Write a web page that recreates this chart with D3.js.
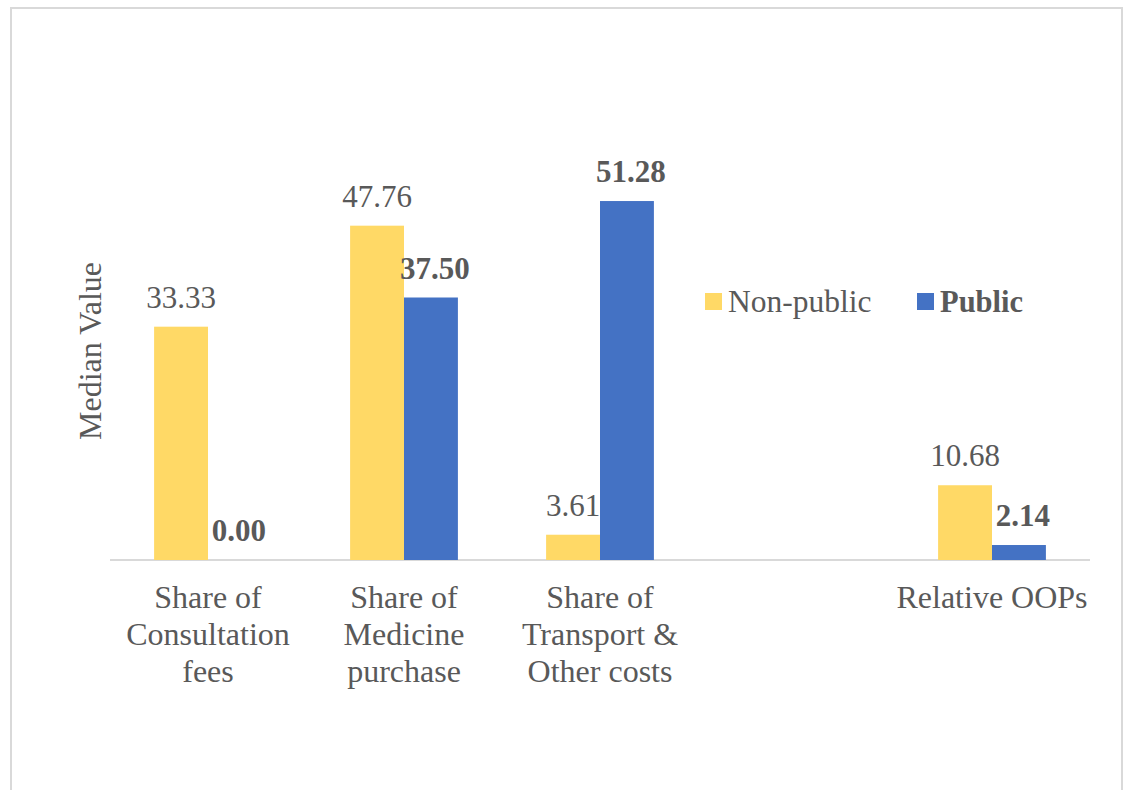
<!DOCTYPE html>
<html>
<head>
<meta charset="utf-8">
<script src="https://cdn.jsdelivr.net/npm/d3@7"></script>
<style>
  body { margin: 0; background: #fff; }
  text { font-family: "Liberation Serif", "DejaVu Serif", "Times New Roman", serif; fill: #595959; }
</style>
</head>
<body>
<div id="chart"></div>
<script>
// categories (empty slot kept as in the original layout)
const categories = [
  ['Share of', 'Consultation', 'fees'],
  ['Share of', 'Medicine', 'purchase'],
  ['Share of', 'Transport &', 'Other costs'],
  [],
  ['Relative OOPs']
];
const nonPublic = [33.33, 47.76, 3.61, null, 10.68];
const publicVals = [0.00, 37.50, 51.28, null, 2.14];
const seriesNames = ['Non-public', 'Public'];
const colors = ['#FFD966', '#4472C4'];

const W = 1126, H = 790;
const margin = { top: 140, right: 36, bottom: 230, left: 110 };
const width = W - margin.left - margin.right;
const height = H - margin.top - margin.bottom;

const svg = d3.select('#chart').append('svg')
  .attr('width', W)
  .attr('height', H);

// outer frame
svg.append('rect')
  .attr('x', 11).attr('y', 8)
  .attr('width', 1111).attr('height', 820)
  .attr('fill', 'none')
  .attr('stroke', '#d9d9d9')
  .attr('stroke-width', 2);

const g = svg.append('g')
  .attr('transform', `translate(${margin.left},${margin.top})`);

const x0 = d3.scaleBand()
  .domain(d3.range(categories.length))
  .range([0, width])
  .paddingInner(0)
  .paddingOuter(0);

const x1 = d3.scaleBand()
  .domain([0, 1])
  .range([x0.bandwidth() * 0.225, x0.bandwidth() * 0.775]);

const y = d3.scaleLinear()
  .domain([0, 60])
  .range([height, 0]);

// baseline
g.append('line')
  .attr('x1', 0).attr('x2', width)
  .attr('y1', y(0)).attr('y2', y(0))
  .attr('stroke', '#d9d9d9')
  .attr('stroke-width', 2);

const series = [nonPublic, publicVals];

series.forEach((vals, s) => {
  const bars = g.append('g');
  vals.forEach((v, i) => {
    if (v === null) return;
    bars.append('rect')
      .attr('x', x0(i) + x1(s))
      .attr('y', y(v))
      .attr('width', x1.bandwidth())
      .attr('height', y(0) - y(v))
      .attr('fill', colors[s]);
    bars.append('text')
      .attr('x', x0(i) + x1(s) + x1.bandwidth() / 2 + (s === 1 ? 4 : 0))
      .attr('y', y(v) - 19)
      .attr('text-anchor', 'middle')
      .style('font-size', '31px')
      .style('font-weight', s === 1 ? 'bold' : 'normal')
      .text(v.toFixed(2));
  });
});

// category labels
categories.forEach((lines, i) => {
  const t = g.append('text')
    .attr('x', x0(i) + x0.bandwidth() / 2)
    .attr('y', y(0) + 48)
    .attr('text-anchor', 'middle')
    .style('font-size', '32px');
  lines.forEach((l, j) => {
    t.append('tspan')
      .attr('x', x0(i) + x0.bandwidth() / 2)
      .attr('dy', j === 0 ? 0 : 37)
      .text(l);
  });
});

// y axis title
svg.append('text')
  .attr('transform', `translate(101,351) rotate(-90)`)
  .attr('text-anchor', 'middle')
  .style('font-size', '32px')
  .text('Median Value');

// legend
const legend = svg.append('g').attr('transform', 'translate(705,293)');
const legX = [0, 212];
seriesNames.forEach((name, s) => {
  legend.append('rect')
    .attr('x', legX[s]).attr('y', 0)
    .attr('width', 17).attr('height', 17)
    .attr('fill', colors[s]);
  legend.append('text')
    .attr('x', legX[s] + 23).attr('y', 19)
    .style('font-size', s === 1 ? '30.5px' : '31.5px')
    .style('font-weight', s === 1 ? 'bold' : 'normal')
    .text(name);
});
</script>
</body>
</html>
